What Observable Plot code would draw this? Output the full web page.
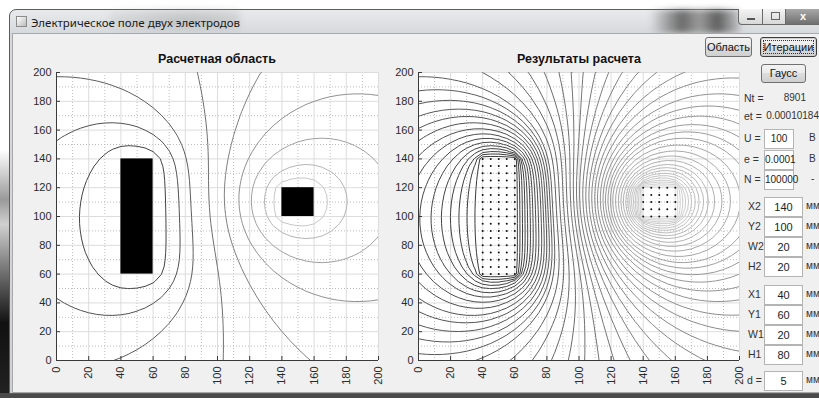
<!DOCTYPE html>
<html>
<head>
<meta charset="utf-8">
<script src="https://cdn.jsdelivr.net/npm/d3@7"></script>
<script src="https://cdn.jsdelivr.net/npm/@observablehq/plot@0.6"></script>
<style>
html,body{margin:0;padding:0;}
body{width:819px;height:398px;overflow:hidden;background:#fff;position:relative;font-family:"Liberation Sans",Arial,sans-serif;}
.abs{position:absolute;}
#leftstrip{left:0;top:150px;width:9px;height:248px;background:linear-gradient(#fff,#9a9a9a 20%,#d0d0d0 30%,#555 55%,#111 70%,#222);}
#bottomstrip{left:0;top:393px;width:819px;height:5px;background:#4a4a4a;}
#win{left:9px;top:9px;width:830px;height:385px;border:1px solid #5c5c5c;border-radius:7px 7px 0 0;background:linear-gradient(#e8eaec,#d6d9dc 24px,#cfd2d5);box-sizing:border-box;}
#blur1{left:650px;top:10px;width:90px;height:23px;background:linear-gradient(90deg,rgba(120,120,120,0),#6a6a6a 35%,#9c9c9c 55%,#5e5e5e 75%,rgba(90,90,90,0.2));filter:blur(3px);}
#blur2{left:110px;top:8px;width:130px;height:24px;background:radial-gradient(ellipse at 60% 50%,rgba(150,150,150,0.45),rgba(200,200,200,0));filter:blur(3px);}
#wtitle{left:31px;top:15px;font-size:11.5px;color:#1a1a1a;font-family:"Noto Sans","Liberation Sans",sans-serif;}
#wicon{left:16px;top:16px;width:11px;height:11px;border:1px solid #8a8a8a;background:linear-gradient(135deg,#fff,#bbb);box-sizing:border-box;}
.cap{top:9px;height:16px;border:1px solid #6a6a6a;border-top:none;box-sizing:border-box;background:linear-gradient(#f4f4f4,#d8d8d8);}
#cmin{left:738px;width:25px;border-radius:0 0 0 4px;}
#cmax{left:762px;width:24px;}
#ccls{left:785px;width:36px;background:linear-gradient(#a8a8a8,#707070);color:#fff;font-size:11px;font-weight:bold;text-align:center;line-height:14px;}
#cmin:after{content:"";position:absolute;left:8px;top:9px;width:8px;height:2px;background:#555;}
#cmax:after{content:"";position:absolute;left:8px;top:3px;width:7px;height:6px;border:1px solid #666;}
#content{left:12px;top:33px;width:830px;height:360px;background:#f0f0f0;border:1px solid #a8a8a8;box-sizing:border-box;}
.ptitle{top:52px;font-size:12.5px;font-weight:bold;color:#111;width:200px;text-align:center;}
.btn{height:20px;border:1px solid #707070;border-radius:3px;box-sizing:border-box;background:linear-gradient(#f2f2f2,#ebebeb 45%,#dddddd 50%,#cfcfcf);font-size:11px;color:#111;text-align:center;line-height:18px;}
.lab{font-size:11px;color:#333;}
.box{height:20px;background:#fff;border:1px solid #b4b4b4;box-sizing:border-box;font-size:11px;color:#222;text-align:center;line-height:18px;}
</style>
</head>
<body>
<div class="abs" id="leftstrip"></div>
<div class="abs" id="bottomstrip"></div>
<div class="abs" id="win"></div>
<div class="abs" id="blur2"></div>
<div class="abs" id="blur1"></div>
<div class="abs" id="wicon"></div>
<div class="abs" id="wtitle">Электрическое поле двух электродов</div>
<div class="abs cap" id="cmin"></div>
<div class="abs cap" id="cmax"></div>
<div class="abs cap" id="ccls">x</div>
<div class="abs" id="content"></div>
<div class="abs" id="plot1" style="left:0;top:40px;"></div>
<div class="abs" id="plot2" style="left:392px;top:40px;"></div>
<div class="abs ptitle" style="left:117px;">Расчетная область</div>
<div class="abs ptitle" style="left:479px;">Результаты расчета</div>
<div id="panel"></div>
<script>
// ---------- data ----------
const buttonLabels = ["Область", "Итерации", "Гаусс"];
const statNames = ["Nt =", "et ="];
const statValues = ["8901", "0.00010184"];
const paramNames = ["U =", "e =", "N ="];
const paramValues = ["100", "0.0001", "100000"];
const paramUnits = ["В", "В", "-"];
const geomNames = ["X2", "Y2", "W2", "H2", "X1", "Y1", "W1", "H1", "d ="];
const geomValues = ["140", "100", "20", "20", "40", "60", "20", "80", "5"];
const geomUnit = "мм";

const electrodeX = [40, 140];     // lower-left x, mm
const electrodeY = [60, 100];     // lower-left y, mm
const electrodeW = [20, 20];
const electrodeH = [80, 20];
const electrodeV = [0, 100];      // potentials, V
const gridStep = 5;               // d, mm
const domainMax = 200;

const xTicks = [0, 20, 40, 60, 80, 100, 120, 140, 160, 180, 200];
const yTicks = [0, 20, 40, 60, 80, 100, 120, 140, 160, 180, 200];
const minorTicks = [10, 30, 50, 70, 90, 110, 130, 150, 170, 190];

const levelsArea = [8, 16.5, 24, 35.6, 45.7, 56, 66, 78.5, 89.5];
const levelsResult = [1.6, 3.2, 4.8, 6.4, 8, 9.7, 11.4, 13.1, 14.8, 16.5, 18, 19.5, 21, 22.5, 24,
  26.3, 28.6, 31, 33.3, 35.6, 37.6, 39.6, 41.6, 43.7, 45.7, 47.8, 49.8, 51.9, 53.9, 56,
  58, 60, 62, 64, 66, 68.5, 71, 73.5, 76, 78.5, 80.7, 82.9, 85.1, 87.3, 89.5, 91.6, 93.7, 95.8, 97.9];

const nodeX1 = [40, 45, 50, 55, 60];
const nodeY1 = [60, 65, 70, 75, 80, 85, 90, 95, 100, 105, 110, 115, 120, 125, 130, 135, 140];
const nodeX2 = [140, 145, 150, 155, 160];
const nodeY2 = [100, 105, 110, 115, 120];

// ---------- field of two isolated electrodes (boundary elements, zero total charge) ----------
function segInt(ax, ay, bx, by, px, py) {
  const dx = bx - ax, dy = by - ay, L = Math.hypot(dx, dy);
  const tx = dx / L, ty = dy / L, rx = px - ax, ry = py - ay;
  const u = rx * tx + ry * ty, v = Math.abs(-rx * ty + ry * tx);
  const F = w => {
    const r2 = w * w + v * v;
    let s = (r2 > 0 ? 0.5 * w * Math.log(r2) : 0) - w;
    if (v > 1e-12) s += v * Math.atan(w / v);
    return s;
  };
  return -(F(u) - F(u - L));
}
const segs = [];
electrodeX.forEach((x0, k) => {
  const y0 = electrodeY[k], w = electrodeW[k], h = electrodeH[k];
  const corners = [[x0, y0], [x0 + w, y0], [x0 + w, y0 + h], [x0, y0 + h]];
  for (let c = 0; c < 4; c++) {
    const [ax, ay] = corners[c], [bx, by] = corners[(c + 1) % 4];
    const len = Math.hypot(bx - ax, by - ay), n = Math.round(len);
    for (let i = 0; i < n; i++) {
      const a0 = i / n, a1 = (i + 1) / n;
      segs.push({ax: ax + (bx - ax) * a0, ay: ay + (by - ay) * a0, bx: ax + (bx - ax) * a1, by: ay + (by - ay) * a1, len: len / n, k});
    }
  }
});
const M = segs.length, Nn = M + 1;
const A = Array.from({length: Nn}, () => new Float64Array(Nn + 1));
for (let i = 0; i < M; i++) {
  const mx = (segs[i].ax + segs[i].bx) / 2, my = (segs[i].ay + segs[i].by) / 2;
  for (let j = 0; j < M; j++) A[i][j] = segInt(segs[j].ax, segs[j].ay, segs[j].bx, segs[j].by, mx, my);
  A[i][M] = 1; A[i][Nn] = electrodeV[segs[i].k];
}
for (let j = 0; j < M; j++) A[M][j] = segs[j].len;
A[M][M] = 0; A[M][Nn] = 0;
for (let c = 0; c < Nn; c++) {
  let p = c;
  for (let r = c + 1; r < Nn; r++) if (Math.abs(A[r][c]) > Math.abs(A[p][c])) p = r;
  [A[c], A[p]] = [A[p], A[c]];
  for (let r = c + 1; r < Nn; r++) {
    const f = A[r][c] / A[c][c];
    if (f) for (let q = c; q <= Nn; q++) A[r][q] -= f * A[c][q];
  }
}
const sol = new Float64Array(Nn);
for (let r = Nn - 1; r >= 0; r--) {
  let s = A[r][Nn];
  for (let q = r + 1; q < Nn; q++) s -= A[r][q] * sol[q];
  sol[r] = s / A[r][r];
}
function potential(px, py) {
  for (let k = 0; k < electrodeX.length; k++)
    if (px >= electrodeX[k] && px <= electrodeX[k] + electrodeW[k] && py >= electrodeY[k] && py <= electrodeY[k] + electrodeH[k]) return electrodeV[k];
  let s = sol[M];
  for (let j = 0; j < M; j++) s += sol[j] * segInt(segs[j].ax, segs[j].ay, segs[j].bx, segs[j].by, px, py);
  return s;
}
const nGrid = domainMax / gridStep + 1;
const field = [];
for (let r = 0; r < nGrid; r++) for (let c = 0; c < nGrid; c++) field.push(potential(c * gridStep, r * gridStep));

// ---------- plots ----------
const electrodes = electrodeX.map((x, k) => ({x1: x, x2: x + electrodeW[k], y1: electrodeY[k], y2: electrodeY[k] + electrodeH[k]}));
const nodes = [];
nodeX1.forEach(x => nodeY1.forEach(y => nodes.push({x, y})));
nodeX2.forEach(x => nodeY2.forEach(y => nodes.push({x, y})));

function makePlot(opts) {
  const {width, height, ml, mr, mt, mb, levels, showRects, showNodes} = opts;
  const fw = width - ml - mr, fh = height - mt - mb;
  const half = gridStep / 2;
  const marks = [
    Plot.frame({fill: "#fff", stroke: null}),
    Plot.ruleX(minorTicks, {stroke: "#bcbcbc", strokeDasharray: "1,2"}),
    Plot.ruleY(minorTicks, {stroke: "#bcbcbc", strokeDasharray: "1,2"}),
    Plot.ruleX(xTicks, {stroke: "#dcdcdc"}),
    Plot.ruleY(yTicks, {stroke: "#dcdcdc"}),
    Plot.contour(field, {value: d => d, width: nGrid, height: nGrid, x1: -half, x2: domainMax + half, y1: -half, y2: domainMax + half,
      thresholds: levels, stroke: "value", fill: "none", strokeWidth: 1, clip: true})
  ];
  if (showRects) marks.push(Plot.rect(electrodes, {x1: "x1", x2: "x2", y1: "y1", y2: "y2", fill: "#000"}));
  if (showNodes) marks.push(Plot.dot(nodes, {x: "x", y: "y", r: 1, fill: "#111", stroke: null}));
  marks.push(
    Plot.ruleX([0], {stroke: "#3a3a3a"}),
    Plot.ruleY([0], {stroke: "#3a3a3a"}),
    Plot.tickX(xTicks, {insetTop: fh - 4, stroke: "#3a3a3a"}),
    Plot.tickY(yTicks, {insetRight: fw - 4, stroke: "#3a3a3a"}),
    Plot.axisY(yTicks, {tickSize: 0, tickPadding: 5, label: null, tickFormat: d => d}),
    Plot.axisX(xTicks, {tickSize: 0, tickPadding: 6, tickRotate: -90, label: null, tickFormat: d => d})
  );
  return Plot.plot({
    width, height, marginLeft: ml, marginRight: mr, marginTop: mt, marginBottom: mb,
    x: {domain: [0, domainMax]}, y: {domain: [0, domainMax]},
    color: {type: "linear", domain: [0, 100], range: ["#363636", "#d8d8d8"]},
    style: {fontFamily: "Liberation Sans, Arial, sans-serif", fontSize: "11px", color: "#2a2a2a", background: "transparent", overflow: "visible"},
    marks
  });
}
const p1 = makePlot({width: 392, height: 355, ml: 56, mr: 14, mt: 32, mb: 35, levels: levelsArea, showRects: true, showNodes: false});
const p2 = makePlot({width: 358, height: 355, ml: 26, mr: 11, mt: 32, mb: 35, levels: levelsResult, showRects: false, showNodes: true});
document.getElementById("plot1").appendChild(p1);
document.getElementById("plot2").appendChild(p2);

// ---------- right control panel ----------
const panel = document.getElementById("panel");
function add(cls, text, style) {
  const el = document.createElement("div");
  el.className = "abs " + cls; el.textContent = text; el.setAttribute("style", style); panel.appendChild(el); return el;
}
add("btn", buttonLabels[0], "left:705px;top:37px;width:47px;");
add("btn", buttonLabels[1], "left:760px;top:37px;width:57px;border-color:#3c3c3c;box-shadow:inset 0 0 0 1px #cfcfcf;outline:1px dotted #333;outline-offset:-4px;");
add("btn", buttonLabels[2], "left:761px;top:64px;width:45px;height:19px;line-height:17px;");
const statY = [92, 110];
statNames.forEach((s, i) => {
  add("lab", s, `left:744px;top:${statY[i]}px;font-size:10.5px;`);
  add("lab", statValues[i], `left:762px;width:${i ? 57 : 44}px;text-align:right;top:${statY[i]}px;font-size:10px;`);
});
const paramTop = [129, 150, 170];
paramNames.forEach((s, i) => {
  add("lab", s, `left:744px;top:${paramTop[i] + 3}px;font-size:10.5px;`);
  add("box", paramValues[i], `left:764px;top:${paramTop[i]}px;width:30px;font-size:10px;`);
  add("lab", paramUnits[i], `left:${i < 2 ? 809 : 811}px;top:${paramTop[i] + 3}px;font-size:10px;`);
});
const geomTop = [197, 217, 237, 257, 285, 305, 325, 345, 371];
geomNames.forEach((s, i) => {
  add("lab", s, `left:${i === 8 ? 747 : 748}px;top:${geomTop[i] + 3}px;font-size:10.5px;`);
  add("box", geomValues[i], `left:764px;top:${geomTop[i]}px;width:39px;`);
  add("lab", geomUnit, `left:806px;top:${geomTop[i] + 3}px;font-size:10px;`);
});
</script>
</body>
</html>
